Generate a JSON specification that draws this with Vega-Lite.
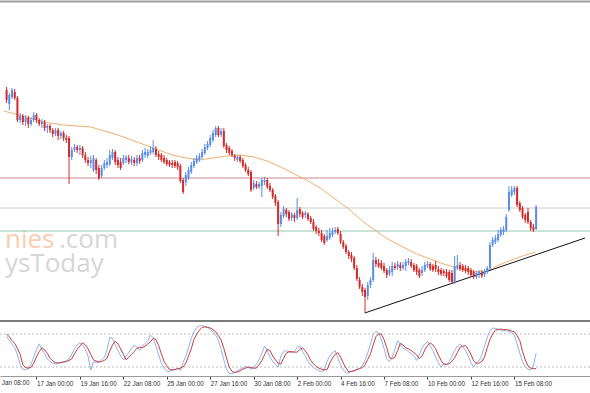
{
"$schema": "https://vega.github.io/schema/vega-lite/v6.json",
"width": 590, "height": 393, "padding": 0, "autosize": {"type": "none"},
"background": "white",
"config": {"view": {"stroke": null}},
"datasets": {
"wm": [{"t":"nies","i":-11.6,"v":72,"g":"a"},{"t":".com","i":8.3,"v":72,"g":"b"},{"t":"ysToday","i":-11.6,"v":48,"g":"b"}],
"frame": [{"v":318.5,"w":"top"},{"v":-1,"w":"sep"}],
"levels": [{"v":142,"g":"r"},{"v":112,"g":"g"},{"v":89,"g":"t"}],
"xlab": [{"i":-16,"t":"14 Jan 08:00","s":-3.6}],
"ma": [{"i":-12,"v":209},{"i":-5,"v":204},{"i":0,"v":200},{"i":5,"v":197},{"i":10,"v":195},{"i":15,"v":194},{"i":20,"v":193},{"i":25,"v":189},{"i":30,"v":185},{"i":35,"v":180},{"i":40,"v":175},{"i":45,"v":170},{"i":50,"v":165},{"i":55,"v":162},{"i":60,"v":160},{"i":65,"v":162},{"i":70,"v":164},{"i":75,"v":165},{"i":80,"v":163},{"i":85,"v":159},{"i":90,"v":153},{"i":95,"v":146},{"i":100,"v":139},{"i":105,"v":131},{"i":110,"v":121},{"i":115,"v":111},{"i":120,"v":99},{"i":125,"v":89},{"i":130,"v":80},{"i":135,"v":73},{"i":140,"v":66},{"i":145,"v":61},{"i":150,"v":56},{"i":155,"v":52},{"i":160,"v":49},{"i":165,"v":48},{"i":168,"v":52},{"i":172,"v":57},{"i":176,"v":61},{"i":180,"v":65},{"i":184,"v":68}],
"trend": [{"i":120.9,"v":7},{"i":202,"v":82}],
"slev": [{"s":80},{"s":20}],
"candles": [
{"i":-11,"o":230,"h":233,"l":217,"c":220,"k":76,"d":80},
{"i":-10,"o":216,"h":227,"l":210,"c":225,"k":68,"d":75},
{"i":-9,"o":223,"h":232,"l":221,"c":230,"k":62,"d":68},
{"i":-8,"o":228,"h":231,"l":220,"c":222,"k":55,"d":63},
{"i":-7,"o":222,"h":224,"l":198,"c":200,"k":42,"d":54},
{"i":-6,"o":200,"h":207,"l":197,"c":204,"k":25,"d":43},
{"i":-5,"o":204,"h":206,"l":195,"c":198,"k":16,"d":24},
{"i":-4,"o":198,"h":205,"l":194,"c":202,"k":15,"d":19},
{"i":-3,"o":202,"h":204,"l":192,"c":196,"k":17,"d":18},
{"i":-2,"o":196,"h":203,"l":194,"c":200,"k":25,"d":19},
{"i":-1,"o":200,"h":208,"l":198,"c":205,"k":38,"d":27},
{"i":0,"o":205,"h":207,"l":197,"c":200,"k":52,"d":38},
{"i":1,"o":200,"h":202,"l":194,"c":196,"k":62,"d":48},
{"i":2,"o":196,"h":201,"l":192,"c":198,"k":52,"d":55},
{"i":3,"o":198,"h":200,"l":189,"c":192,"k":44,"d":51},
{"i":4,"o":192,"h":196,"l":187,"c":194,"k":35,"d":45},
{"i":5,"o":194,"h":196,"l":187,"c":190,"k":30,"d":36},
{"i":6,"o":190,"h":192,"l":183,"c":186,"k":27,"d":31},
{"i":7,"o":186,"h":192,"l":184,"c":190,"k":26,"d":28},
{"i":8,"o":190,"h":192,"l":180,"c":184,"k":28,"d":27},
{"i":9,"o":184,"h":189,"l":181,"c":187,"k":28,"d":28},
{"i":10,"o":187,"h":189,"l":179,"c":182,"k":30,"d":29},
{"i":11,"o":182,"h":185,"l":177,"c":180,"k":31,"d":30},
{"i":12,"o":182,"h":184,"l":136,"c":163,"k":35,"d":32},
{"i":13,"o":163,"h":173,"l":160,"c":170,"k":43,"d":35},
{"i":14,"o":170,"h":176,"l":168,"c":173,"k":53,"d":44},
{"i":15,"o":173,"h":175,"l":167,"c":170,"k":60,"d":52},
{"i":16,"o":170,"h":175,"l":165,"c":172,"k":64,"d":58},
{"i":17,"o":172,"h":174,"l":162,"c":165,"k":60,"d":64},
{"i":18,"o":165,"h":168,"l":157,"c":160,"k":52,"d":60},
{"i":19,"o":160,"h":163,"l":154,"c":157,"k":40,"d":53},
{"i":20,"o":157,"h":164,"l":152,"c":160,"k":14,"d":43},
{"i":21,"o":150,"h":165,"l":148,"c":162,"k":30,"d":33},
{"i":22,"o":160,"h":162,"l":146,"c":150,"k":28,"d":31},
{"i":23,"o":152,"h":155,"l":140,"c":142,"k":29,"d":29},
{"i":24,"o":144,"h":155,"l":142,"c":152,"k":33,"d":30},
{"i":25,"o":152,"h":160,"l":150,"c":157,"k":37,"d":32},
{"i":26,"o":155,"h":162,"l":152,"c":158,"k":52,"d":36},
{"i":27,"o":156,"h":170,"l":154,"c":165,"k":74,"d":49},
{"i":28,"o":162,"h":171,"l":160,"c":168,"k":72,"d":60},
{"i":29,"o":168,"h":170,"l":155,"c":158,"k":60,"d":67},
{"i":30,"o":160,"h":163,"l":152,"c":155,"k":50,"d":62},
{"i":31,"o":158,"h":162,"l":150,"c":152,"k":40,"d":53},
{"i":32,"o":157,"h":165,"l":155,"c":162,"k":33,"d":43},
{"i":33,"o":160,"h":165,"l":157,"c":163,"k":40,"d":33},
{"i":34,"o":162,"h":165,"l":156,"c":158,"k":46,"d":38},
{"i":35,"o":158,"h":164,"l":155,"c":161,"k":54,"d":43},
{"i":36,"o":160,"h":163,"l":154,"c":157,"k":60,"d":48},
{"i":37,"o":157,"h":165,"l":154,"c":162,"k":56,"d":54},
{"i":38,"o":162,"h":165,"l":156,"c":159,"k":50,"d":56},
{"i":39,"o":160,"h":170,"l":158,"c":167,"k":58,"d":55},
{"i":40,"o":165,"h":172,"l":162,"c":168,"k":63,"d":58},
{"i":41,"o":164,"h":171,"l":162,"c":168,"k":68,"d":62},
{"i":42,"o":167,"h":174,"l":165,"c":170,"k":78,"d":66},
{"i":43,"o":168,"h":180,"l":166,"c":172,"k":73,"d":72},
{"i":44,"o":171,"h":174,"l":163,"c":165,"k":58,"d":70},
{"i":45,"o":166,"h":169,"l":160,"c":163,"k":42,"d":59},
{"i":46,"o":165,"h":167,"l":158,"c":160,"k":27,"d":44},
{"i":47,"o":162,"h":165,"l":156,"c":158,"k":18,"d":30},
{"i":48,"o":160,"h":162,"l":154,"c":156,"k":12,"d":22},
{"i":49,"o":158,"h":160,"l":153,"c":155,"k":12,"d":15},
{"i":50,"o":157,"h":160,"l":152,"c":155,"k":14,"d":15},
{"i":51,"o":158,"h":160,"l":152,"c":154,"k":16,"d":15},
{"i":52,"o":157,"h":159,"l":150,"c":153,"k":17,"d":17},
{"i":53,"o":154,"h":156,"l":137,"c":139,"k":14,"d":18},
{"i":54,"o":140,"h":142,"l":126,"c":128,"k":28,"d":20},
{"i":55,"o":138,"h":148,"l":134,"c":145,"k":40,"d":27},
{"i":56,"o":142,"h":153,"l":140,"c":150,"k":55,"d":40},
{"i":57,"o":148,"h":158,"l":146,"c":155,"k":72,"d":53},
{"i":58,"o":154,"h":162,"l":152,"c":159,"k":84,"d":70},
{"i":59,"o":158,"h":165,"l":156,"c":162,"k":92,"d":80},
{"i":60,"o":160,"h":167,"l":158,"c":164,"k":95,"d":87},
{"i":61,"o":163,"h":171,"l":161,"c":168,"k":95,"d":92},
{"i":62,"o":167,"h":176,"l":165,"c":173,"k":94,"d":93},
{"i":63,"o":172,"h":179,"l":170,"c":176,"k":92,"d":92},
{"i":64,"o":175,"h":185,"l":173,"c":182,"k":88,"d":91},
{"i":65,"o":180,"h":190,"l":178,"c":187,"k":84,"d":88},
{"i":66,"o":185,"h":194,"l":183,"c":192,"k":78,"d":84},
{"i":67,"o":192,"h":194,"l":183,"c":185,"k":68,"d":77},
{"i":68,"o":185,"h":192,"l":183,"c":189,"k":52,"d":69},
{"i":69,"o":189,"h":192,"l":172,"c":174,"k":33,"d":54},
{"i":70,"o":175,"h":177,"l":167,"c":170,"k":16,"d":36},
{"i":71,"o":172,"h":174,"l":165,"c":167,"k":8,"d":20},
{"i":72,"o":169,"h":171,"l":163,"c":165,"k":8,"d":12},
{"i":73,"o":164,"h":166,"l":159,"c":162,"k":10,"d":10},
{"i":74,"o":160,"h":165,"l":158,"c":163,"k":13,"d":11},
{"i":75,"o":163,"h":165,"l":157,"c":159,"k":16,"d":13},
{"i":76,"o":160,"h":162,"l":152,"c":154,"k":18,"d":16},
{"i":77,"o":155,"h":157,"l":148,"c":150,"k":21,"d":18},
{"i":78,"o":150,"h":153,"l":144,"c":146,"k":19,"d":20},
{"i":79,"o":148,"h":150,"l":128,"c":130,"k":16,"d":19},
{"i":80,"o":132,"h":140,"l":130,"c":137,"k":18,"d":18},
{"i":81,"o":136,"h":139,"l":131,"c":133,"k":25,"d":18},
{"i":82,"o":133,"h":138,"l":131,"c":136,"k":34,"d":24},
{"i":83,"o":134,"h":142,"l":123,"c":140,"k":45,"d":32},
{"i":84,"o":138,"h":143,"l":135,"c":140,"k":58,"d":42},
{"i":85,"o":140,"h":142,"l":131,"c":133,"k":50,"d":52},
{"i":86,"o":134,"h":137,"l":128,"c":130,"k":38,"d":50},
{"i":87,"o":130,"h":132,"l":121,"c":123,"k":30,"d":40},
{"i":88,"o":124,"h":126,"l":114,"c":117,"k":25,"d":33},
{"i":89,"o":118,"h":120,"l":84,"c":96,"k":20,"d":27},
{"i":90,"o":96,"h":108,"l":93,"c":105,"k":40,"d":25},
{"i":91,"o":104,"h":114,"l":102,"c":111,"k":48,"d":36},
{"i":92,"o":110,"h":112,"l":103,"c":106,"k":50,"d":45},
{"i":93,"o":108,"h":110,"l":99,"c":101,"k":47,"d":48},
{"i":94,"o":102,"h":108,"l":99,"c":106,"k":46,"d":48},
{"i":95,"o":105,"h":107,"l":98,"c":102,"k":48,"d":47},
{"i":96,"o":102,"h":122,"l":100,"c":110,"k":56,"d":47},
{"i":97,"o":111,"h":113,"l":103,"c":106,"k":58,"d":52},
{"i":98,"o":107,"h":109,"l":101,"c":103,"k":48,"d":55},
{"i":99,"o":105,"h":109,"l":102,"c":107,"k":40,"d":49},
{"i":100,"o":106,"h":108,"l":99,"c":101,"k":30,"d":42},
{"i":101,"o":102,"h":104,"l":96,"c":98,"k":24,"d":32},
{"i":102,"o":98,"h":101,"l":89,"c":91,"k":19,"d":26},
{"i":103,"o":93,"h":95,"l":86,"c":89,"k":16,"d":21},
{"i":104,"o":89,"h":92,"l":84,"c":87,"k":13,"d":18},
{"i":105,"o":87,"h":90,"l":78,"c":80,"k":12,"d":16},
{"i":106,"o":84,"h":86,"l":75,"c":77,"k":14,"d":15},
{"i":107,"o":80,"h":90,"l":78,"c":84,"k":30,"d":15},
{"i":108,"o":82,"h":92,"l":80,"c":87,"k":40,"d":27},
{"i":109,"o":85,"h":92,"l":83,"c":89,"k":46,"d":36},
{"i":110,"o":88,"h":93,"l":86,"c":90,"k":50,"d":43},
{"i":111,"o":91,"h":93,"l":85,"c":87,"k":36,"d":46},
{"i":112,"o":86,"h":89,"l":76,"c":78,"k":24,"d":38},
{"i":113,"o":78,"h":80,"l":71,"c":73,"k":15,"d":27},
{"i":114,"o":74,"h":76,"l":66,"c":68,"k":9,"d":18},
{"i":115,"o":68,"h":70,"l":61,"c":64,"k":10,"d":11},
{"i":116,"o":65,"h":68,"l":58,"c":61,"k":12,"d":12},
{"i":117,"o":62,"h":64,"l":50,"c":52,"k":14,"d":13},
{"i":118,"o":52,"h":55,"l":39,"c":41,"k":16,"d":15},
{"i":119,"o":40,"h":43,"l":31,"c":33,"k":18,"d":17},
{"i":120,"o":33,"h":36,"l":24,"c":28,"k":22,"d":19},
{"i":121,"o":30,"h":32,"l":7,"c":23,"k":32,"d":24},
{"i":122,"o":24,"h":38,"l":20,"c":35,"k":46,"d":34},
{"i":123,"o":35,"h":43,"l":32,"c":40,"k":62,"d":44},
{"i":124,"o":40,"h":67,"l":38,"c":60,"k":80,"d":60},
{"i":125,"o":60,"h":63,"l":53,"c":56,"k":85,"d":75},
{"i":126,"o":57,"h":61,"l":52,"c":54,"k":82,"d":80},
{"i":127,"o":57,"h":60,"l":50,"c":52,"k":70,"d":80},
{"i":128,"o":54,"h":57,"l":47,"c":49,"k":54,"d":70},
{"i":129,"o":50,"h":52,"l":42,"c":45,"k":34,"d":55},
{"i":130,"o":46,"h":54,"l":44,"c":50,"k":30,"d":37},
{"i":131,"o":48,"h":58,"l":44,"c":54,"k":38,"d":35},
{"i":132,"o":54,"h":57,"l":50,"c":52,"k":52,"d":38},
{"i":133,"o":53,"h":59,"l":50,"c":56,"k":68,"d":50},
{"i":134,"o":55,"h":58,"l":49,"c":52,"k":60,"d":63},
{"i":135,"o":52,"h":58,"l":50,"c":55,"k":54,"d":60},
{"i":136,"o":54,"h":61,"l":49,"c":58,"k":52,"d":55},
{"i":137,"o":57,"h":62,"l":55,"c":59,"k":48,"d":53},
{"i":138,"o":58,"h":61,"l":52,"c":54,"k":44,"d":50},
{"i":139,"o":55,"h":57,"l":48,"c":50,"k":40,"d":46},
{"i":140,"o":54,"h":56,"l":45,"c":48,"k":32,"d":42},
{"i":141,"o":50,"h":52,"l":42,"c":44,"k":42,"d":35},
{"i":142,"o":47,"h":54,"l":44,"c":50,"k":55,"d":40},
{"i":143,"o":50,"h":58,"l":48,"c":55,"k":62,"d":51},
{"i":144,"o":54,"h":59,"l":52,"c":56,"k":66,"d":59},
{"i":145,"o":56,"h":58,"l":49,"c":51,"k":58,"d":64},
{"i":146,"o":54,"h":56,"l":48,"c":50,"k":50,"d":60},
{"i":147,"o":55,"h":59,"l":48,"c":51,"k":38,"d":53},
{"i":148,"o":51,"h":54,"l":45,"c":48,"k":28,"d":42},
{"i":149,"o":50,"h":52,"l":44,"c":46,"k":20,"d":32},
{"i":150,"o":49,"h":51,"l":44,"c":47,"k":26,"d":25},
{"i":151,"o":48,"h":51,"l":42,"c":44,"k":24,"d":25},
{"i":152,"o":48,"h":50,"l":38,"c":40,"k":30,"d":26},
{"i":153,"o":47,"h":50,"l":36,"c":38,"k":40,"d":30},
{"i":154,"o":38,"h":64,"l":36,"c":54,"k":50,"d":37},
{"i":155,"o":52,"h":65,"l":50,"c":55,"k":58,"d":46},
{"i":156,"o":55,"h":58,"l":49,"c":51,"k":62,"d":56},
{"i":157,"o":54,"h":56,"l":48,"c":50,"k":57,"d":58},
{"i":158,"o":52,"h":55,"l":47,"c":49,"k":50,"d":59},
{"i":159,"o":52,"h":54,"l":45,"c":48,"k":40,"d":52},
{"i":160,"o":50,"h":52,"l":43,"c":45,"k":28,"d":43},
{"i":161,"o":48,"h":50,"l":41,"c":43,"k":20,"d":31},
{"i":162,"o":43,"h":49,"l":41,"c":47,"k":28,"d":27},
{"i":163,"o":45,"h":50,"l":42,"c":48,"k":31,"d":27},
{"i":164,"o":47,"h":50,"l":42,"c":44,"k":42,"d":30},
{"i":165,"o":45,"h":51,"l":43,"c":49,"k":58,"d":38},
{"i":166,"o":48,"h":54,"l":46,"c":52,"k":74,"d":55},
{"i":167,"o":52,"h":78,"l":50,"c":75,"k":86,"d":70},
{"i":168,"o":75,"h":83,"l":73,"c":80,"k":91,"d":80},
{"i":169,"o":78,"h":85,"l":76,"c":82,"k":90,"d":87},
{"i":170,"o":80,"h":90,"l":78,"c":86,"k":89,"d":88},
{"i":171,"o":85,"h":93,"l":83,"c":90,"k":87,"d":89},
{"i":172,"o":88,"h":94,"l":85,"c":91,"k":86,"d":88},
{"i":173,"o":90,"h":106,"l":88,"c":103,"k":86,"d":88},
{"i":174,"o":110,"h":134,"l":108,"c":128,"k":85,"d":87},
{"i":175,"o":125,"h":134,"l":123,"c":130,"k":82,"d":85},
{"i":176,"o":128,"h":134,"l":125,"c":132,"k":78,"d":84},
{"i":177,"o":132,"h":134,"l":113,"c":115,"k":62,"d":77},
{"i":178,"o":117,"h":119,"l":108,"c":110,"k":45,"d":68},
{"i":179,"o":112,"h":114,"l":101,"c":103,"k":30,"d":48},
{"i":180,"o":105,"h":107,"l":97,"c":100,"k":20,"d":33},
{"i":181,"o":108,"h":112,"l":96,"c":98,"k":16,"d":22},
{"i":182,"o":98,"h":100,"l":89,"c":92,"k":15,"d":18},
{"i":183,"o":93,"h":96,"l":88,"c":90,"k":22,"d":17},
{"i":184,"o":91,"h":115,"l":90,"c":113,"k":45,"d":17}
]
},
"resolve": {"scale": {"y": "independent", "color": "independent"}},
"layer": [
{"data": {"name": "wm"}, "mark": {"type": "text", "align": "left", "baseline": "alphabetic", "font": "Open Sans", "fontSize": 26},
 "encoding": {
  "x": {"field": "i", "type": "quantitative", "scale": {"domain": [-11.58, 202], "nice": false, "zero": false}, "axis": {"values": [0,16,32,48,64,80,96,112,128,144,160,176], "labelExpr": "utcFormat(utc(2018,0,17) + datum.value*14400000, '%-d %b %H:%M')", "orient": "bottom", "offset": -17, "grid": false, "domainColor": "#9a9a9a", "tickSize": 3, "tickColor": "#404040", "labelAlign": "left", "labelBaseline": "top", "labelPadding": 1, "labelFont": "Liberation Sans", "labelFontSize": 6.3, "labelColor": "#303030", "labelOverlap": false, "labelFlush": false, "title": null}},
  "y": {"field": "v", "type": "quantitative", "scale": {"domain": [0, 320], "range": [320, 0], "nice": false, "zero": false}, "axis": null},
  "text": {"field": "t"},
  "color": {"field": "g", "type": "nominal", "scale": {"domain": ["a", "b"], "range": ["#f9cdb0", "#d6d6d6"]}, "legend": null}
 }},
{"data": {"name": "frame"}, "mark": {"type": "rule", "strokeWidth": 2},
 "encoding": {
  "y": {"field": "v", "type": "quantitative", "scale": {"domain": [0, 320], "range": [320, 0], "nice": false, "zero": false}, "axis": null},
  "color": {"field": "w", "type": "nominal", "scale": {"domain": ["top", "sep"], "range": ["#a0a0a0", "#7a7a7a"]}, "legend": null}
 }},
{"data": {"name": "levels"}, "mark": {"type": "rule", "strokeWidth": 1},
 "encoding": {
  "y": {"field": "v", "type": "quantitative", "scale": {"domain": [0, 320], "range": [320, 0], "nice": false, "zero": false}, "axis": null},
  "color": {"field": "g", "type": "nominal", "scale": {"domain": ["r", "g", "t"], "range": ["#c98a8e", "#cccccc", "#8fcab0"]}, "legend": null}
 }},
{"data": {"name": "xlab"}, "mark": {"type": "text", "align": "left", "baseline": "top", "font": "Liberation Sans", "fontSize": 6.3, "color": "#303030"},
 "encoding": {
  "x": {"field": "i", "type": "quantitative", "scale": {"domain": [-11.58, 202], "nice": false, "zero": false}, "axis": {"values": [0,16,32,48,64,80,96,112,128,144,160,176], "labelExpr": "utcFormat(utc(2018,0,17) + datum.value*14400000, '%-d %b %H:%M')", "orient": "bottom", "offset": -17, "grid": false, "domainColor": "#9a9a9a", "tickSize": 3, "tickColor": "#404040", "labelAlign": "left", "labelBaseline": "top", "labelPadding": 1, "labelFont": "Liberation Sans", "labelFontSize": 6.3, "labelColor": "#303030", "labelOverlap": false, "labelFlush": false, "title": null}},
  "y": {"field": "s", "type": "quantitative", "scale": {"domain": [0, 100], "range": [378, 323], "nice": false, "zero": false}, "axis": null},
  "text": {"field": "t"}
 }},
{"data": {"name": "ma"}, "mark": {"type": "line", "color": "#eeb06e", "strokeWidth": 1},
 "encoding": {
  "x": {"field": "i", "type": "quantitative", "scale": {"domain": [-11.58, 202], "nice": false, "zero": false}, "axis": {"values": [0,16,32,48,64,80,96,112,128,144,160,176], "labelExpr": "utcFormat(utc(2018,0,17) + datum.value*14400000, '%-d %b %H:%M')", "orient": "bottom", "offset": -17, "grid": false, "domainColor": "#9a9a9a", "tickSize": 3, "tickColor": "#404040", "labelAlign": "left", "labelBaseline": "top", "labelPadding": 1, "labelFont": "Liberation Sans", "labelFontSize": 6.3, "labelColor": "#303030", "labelOverlap": false, "labelFlush": false, "title": null}},
  "y": {"field": "v", "type": "quantitative", "scale": {"domain": [0, 320], "range": [320, 0], "nice": false, "zero": false}, "axis": null}
 }},
{"data": {"name": "trend"}, "mark": {"type": "line", "color": "#111111", "strokeWidth": 1},
 "encoding": {
  "x": {"field": "i", "type": "quantitative", "scale": {"domain": [-11.58, 202], "nice": false, "zero": false}, "axis": {"values": [0,16,32,48,64,80,96,112,128,144,160,176], "labelExpr": "utcFormat(utc(2018,0,17) + datum.value*14400000, '%-d %b %H:%M')", "orient": "bottom", "offset": -17, "grid": false, "domainColor": "#9a9a9a", "tickSize": 3, "tickColor": "#404040", "labelAlign": "left", "labelBaseline": "top", "labelPadding": 1, "labelFont": "Liberation Sans", "labelFontSize": 6.3, "labelColor": "#303030", "labelOverlap": false, "labelFlush": false, "title": null}},
  "y": {"field": "v", "type": "quantitative", "scale": {"domain": [0, 320], "range": [320, 0], "nice": false, "zero": false}, "axis": null}
 }},
{"data": {"name": "candles"}, "mark": {"type": "rule", "strokeWidth": 1},
 "encoding": {
  "x": {"field": "i", "type": "quantitative", "scale": {"domain": [-11.58, 202], "nice": false, "zero": false}, "axis": {"values": [0,16,32,48,64,80,96,112,128,144,160,176], "labelExpr": "utcFormat(utc(2018,0,17) + datum.value*14400000, '%-d %b %H:%M')", "orient": "bottom", "offset": -17, "grid": false, "domainColor": "#9a9a9a", "tickSize": 3, "tickColor": "#404040", "labelAlign": "left", "labelBaseline": "top", "labelPadding": 1, "labelFont": "Liberation Sans", "labelFontSize": 6.3, "labelColor": "#303030", "labelOverlap": false, "labelFlush": false, "title": null}},
  "y": {"field": "l", "type": "quantitative", "scale": {"domain": [0, 320], "range": [320, 0], "nice": false, "zero": false}, "axis": null},
  "y2": {"field": "h"},
  "color": {"condition": {"test": "datum.c >= datum.o", "value": "#5b8de6"}, "value": "#d42a2a"}
 }},
{"data": {"name": "candles"}, "mark": {"type": "bar", "size": 2},
 "encoding": {
  "x": {"field": "i", "type": "quantitative", "scale": {"domain": [-11.58, 202], "nice": false, "zero": false}, "axis": {"values": [0,16,32,48,64,80,96,112,128,144,160,176], "labelExpr": "utcFormat(utc(2018,0,17) + datum.value*14400000, '%-d %b %H:%M')", "orient": "bottom", "offset": -17, "grid": false, "domainColor": "#9a9a9a", "tickSize": 3, "tickColor": "#404040", "labelAlign": "left", "labelBaseline": "top", "labelPadding": 1, "labelFont": "Liberation Sans", "labelFontSize": 6.3, "labelColor": "#303030", "labelOverlap": false, "labelFlush": false, "title": null}},
  "y": {"field": "o", "type": "quantitative", "scale": {"domain": [0, 320], "range": [320, 0], "nice": false, "zero": false}, "axis": null},
  "y2": {"field": "c"},
  "color": {"condition": {"test": "datum.c >= datum.o", "value": "#5b8de6"}, "value": "#d42a2a"}
 }},
{"data": {"name": "slev"}, "mark": {"type": "rule", "strokeWidth": 1, "strokeDash": [2, 2], "color": "#bdbdbd"},
 "encoding": {
  "y": {"field": "s", "type": "quantitative", "scale": {"domain": [0, 100], "range": [378, 323], "nice": false, "zero": false}, "axis": null}
 }},
{"data": {"name": "candles"}, "mark": {"type": "line", "color": "#8db3ea", "strokeWidth": 1},
 "encoding": {
  "x": {"field": "i", "type": "quantitative", "scale": {"domain": [-11.58, 202], "nice": false, "zero": false}, "axis": {"values": [0,16,32,48,64,80,96,112,128,144,160,176], "labelExpr": "utcFormat(utc(2018,0,17) + datum.value*14400000, '%-d %b %H:%M')", "orient": "bottom", "offset": -17, "grid": false, "domainColor": "#9a9a9a", "tickSize": 3, "tickColor": "#404040", "labelAlign": "left", "labelBaseline": "top", "labelPadding": 1, "labelFont": "Liberation Sans", "labelFontSize": 6.3, "labelColor": "#303030", "labelOverlap": false, "labelFlush": false, "title": null}},
  "y": {"field": "k", "type": "quantitative", "scale": {"domain": [0, 100], "range": [378, 323], "nice": false, "zero": false}, "axis": null}
 }},
{"data": {"name": "candles"}, "mark": {"type": "line", "color": "#c83c3c", "strokeWidth": 1},
 "encoding": {
  "x": {"field": "i", "type": "quantitative", "scale": {"domain": [-11.58, 202], "nice": false, "zero": false}, "axis": {"values": [0,16,32,48,64,80,96,112,128,144,160,176], "labelExpr": "utcFormat(utc(2018,0,17) + datum.value*14400000, '%-d %b %H:%M')", "orient": "bottom", "offset": -17, "grid": false, "domainColor": "#9a9a9a", "tickSize": 3, "tickColor": "#404040", "labelAlign": "left", "labelBaseline": "top", "labelPadding": 1, "labelFont": "Liberation Sans", "labelFontSize": 6.3, "labelColor": "#303030", "labelOverlap": false, "labelFlush": false, "title": null}},
  "y": {"field": "d", "type": "quantitative", "scale": {"domain": [0, 100], "range": [378, 323], "nice": false, "zero": false}, "axis": null}
 }}
]
}
